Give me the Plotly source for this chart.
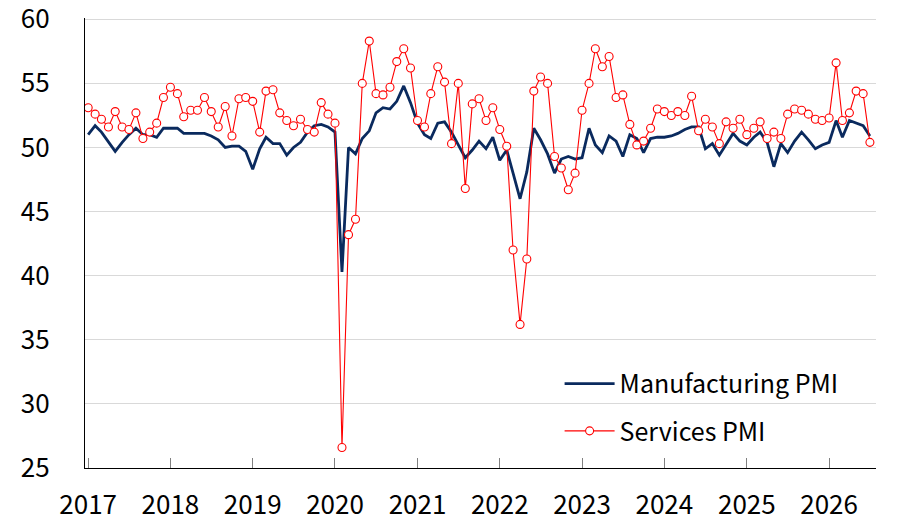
import pandas as pd
import plotly.graph_objects as go

# monthly PMI readings, Jan 2017 - Jul 2026
months = pd.date_range('2017-01-01', periods=115, freq='MS')

manufacturing_pmi = [
    51.0, 51.7, 51.2, 50.4, 49.7, 50.4, 51.0, 51.5, 51.0, 51.0, 50.8, 51.5,  # 2017
    51.5, 51.5, 51.1, 51.1, 51.1, 51.1, 50.9, 50.6, 50.0, 50.1, 50.1, 49.7,  # 2018
    48.3, 49.9, 50.8, 50.3, 50.3, 49.4, 50.0, 50.4, 51.2, 51.7, 51.8, 51.6,  # 2019
    51.2, 40.3, 50.0, 49.5, 50.7, 51.3, 52.7, 53.1, 53.0, 53.6, 54.8, 53.5,  # 2020
    51.9, 51.0, 50.7, 51.9, 52.0, 51.2, 50.2, 49.2, 49.8, 50.5, 49.9, 50.8,  # 2021
    49.0, 49.8, 48.0, 46.0, 48.1, 51.5, 50.6, 49.5, 48.0, 49.1, 49.3, 49.1,  # 2022
    49.2, 51.5, 50.2, 49.6, 50.9, 50.5, 49.3, 51.0, 50.7, 49.6, 50.7, 50.8,  # 2023
    50.8, 50.9, 51.1, 51.4, 51.6, 51.6, 49.9, 50.3, 49.4, 50.2, 51.1, 50.5,  # 2024
    50.2, 50.8, 51.2, 50.4, 48.5, 50.3, 49.6, 50.5, 51.2, 50.6, 49.9, 50.2,  # 2025
    50.4, 52.1, 50.8, 52.1, 51.9, 51.7, 50.9,                                # 2026
]

services_pmi = [
    53.1, 52.6, 52.2, 51.6, 52.8, 51.6, 51.4, 52.7, 50.7, 51.2, 51.9, 53.9,  # 2017
    54.7, 54.2, 52.4, 52.9, 52.9, 53.9, 52.8, 51.6, 53.2, 50.9, 53.8, 53.9,  # 2018
    53.6, 51.2, 54.4, 54.5, 52.7, 52.1, 51.7, 52.2, 51.4, 51.2, 53.5, 52.6,  # 2019
    51.9, 26.6, 43.2, 44.4, 55.0, 58.3, 54.2, 54.1, 54.7, 56.7, 57.7, 56.2,  # 2020
    52.1, 51.6, 54.2, 56.3, 55.1, 50.3, 55.0, 46.8, 53.4, 53.8, 52.1, 53.1,  # 2021
    51.4, 50.1, 42.0, 36.2, 41.3, 54.4, 55.5, 55.0, 49.3, 48.4, 46.7, 48.0,  # 2022
    52.9, 55.0, 57.7, 56.3, 57.1, 53.9, 54.1, 51.8, 50.2, 50.5, 51.5, 53.0,  # 2023
    52.8, 52.5, 52.8, 52.5, 54.0, 51.3, 52.2, 51.6, 50.3, 52.0, 51.5, 52.2,  # 2024
    51.0, 51.5, 52.0, 50.7, 51.2, 50.7, 52.6, 53.0, 52.9, 52.6, 52.2, 52.1,  # 2025
    52.3, 56.6, 52.1, 52.7, 54.4, 54.2, 50.4,                                # 2026
]

y_ticks = [25, 30, 35, 40, 45, 50, 55, 60]

FONT = 'Noto Sans CJK JP'

fig = go.Figure()
fig.add_trace(go.Scatter(x=months, y=manufacturing_pmi, name='Manufacturing PMI',
                         mode='lines', line=dict(color='#0a2a5e', width=2.8),
                         showlegend=True, legend='legend'))
fig.add_trace(go.Scatter(x=months, y=services_pmi, name='Services PMI',
                         mode='lines+markers', line=dict(color='#ff0000', width=1.1),
                         marker=dict(symbol='circle', size=8, color='white',
                                     line=dict(color='#ff0000', width=1.1)),
                         showlegend=True, legend='legend2'))

# page has an 8px body margin, so the figure is shifted by 8px in the window
fig.update_layout(
    width=889, height=518,
    margin=dict(l=77, r=21, t=10, b=58),
    plot_bgcolor='white', paper_bgcolor='white',
    font=dict(family=FONT, size=26, color='black'),
    showlegend=True,
    legend=dict(x=0.600, y=0.187, xanchor='left', yanchor='middle', itemwidth=50,
                bgcolor='rgba(0,0,0,0)', font=dict(size=25)),
    legend2=dict(x=0.600, y=0.082, xanchor='left', yanchor='middle', itemwidth=50,
                 bgcolor='rgba(0,0,0,0)', font=dict(size=25)),
)
fig.update_xaxes(range=['2016-12-18', '2026-07-28'], tick0='2017-01-01', dtick='M12',
                 tickformat='%Y', ticks='inside', ticklen=10, tickcolor='#808080',
                 showline=True, linecolor='black', linewidth=1.3, showgrid=False,
                 ticklabelstandoff=14, zeroline=False, automargin=False)
fig.update_yaxes(range=[25, 60.1], tickmode='array', tickvals=y_ticks,
                 ticklabeloverflow='allow',
                 showline=True, linecolor='black', linewidth=1.3,
                 showgrid=True, gridcolor='#d9d9d9', gridwidth=1, ticks='',
                 ticklabelstandoff=29, zeroline=False, automargin=False)

fig.write_html("out.html")
